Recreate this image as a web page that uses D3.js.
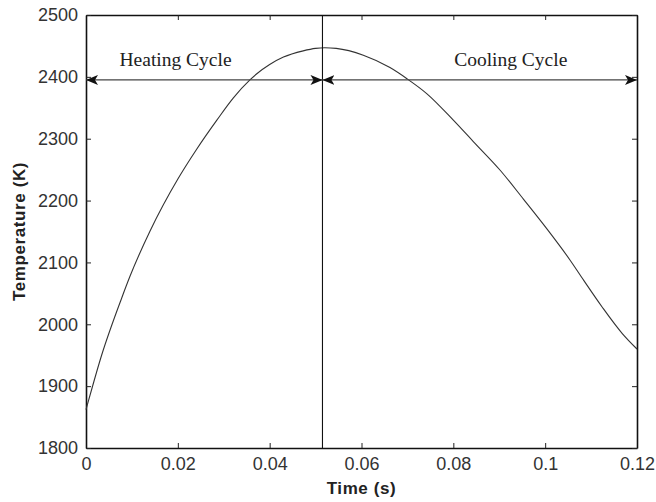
<!DOCTYPE html>
<html lang="en">
<head>
  <meta charset="UTF-8">
  <title>Temperature cycle</title>
  <script src="https://cdn.jsdelivr.net/npm/d3@7"></script>
</head>
<body style="margin:0; background:#fff;">
<script>
  // curve
  const timeS = [0, 0.0003, 0.0034, 0.0078, 0.0096, 0.0139, 0.0201, 0.0241, 0.0285, 0.0321, 0.0357, 0.0372,
    0.040, 0.043, 0.0473, 0.0500, 0.052, 0.0545, 0.0604, 0.0662, 0.0699, 0.0742, 0.080, 0.0844,
    0.0902, 0.0953, 0.1003, 0.1054, 0.1084, 0.1124, 0.1168, 0.12]
  const tempK = [1862, 1870, 1950, 2043, 2078, 2150, 2236, 2283, 2330, 2366, 2395, 2405,
    2420, 2432, 2442, 2446, 2447, 2446, 2435, 2415, 2397, 2373, 2330, 2295,
    2249, 2202, 2155, 2104, 2071, 2028, 1985, 1960]
  const xTicks = [0, 0.02, 0.04, 0.06, 0.08, 0.1, 0.12]
  const yTicks = [1800, 1900, 2000, 2100, 2200, 2300, 2400, 2500]
  const peakTime = 0.0515
  const arrowTemp = 2395
  const cycles = [
    {name: "Heating Cycle", from: 0, to: peakTime, labelAt: 0.0195},
    {name: "Cooling Cycle", from: peakTime, to: 0.12, labelAt: 0.0925}
  ]

  const width = 656, height = 502
  const margin = {left: 86, right: 19, top: 15, bottom: 54}

  const svg = d3.select("body").append("svg")
    .attr("width", width).attr("height", height)
    .style("font-family", "'Liberation Sans', Arial, sans-serif")

  const x = d3.scaleLinear().domain([0, 0.12]).range([margin.left, width - margin.right])
  const y = d3.scaleLinear().domain([1800, 2500]).range([height - margin.bottom, margin.top])

  const defs = svg.append("defs")
  defs.append("marker")
    .attr("id", "head")
    .attr("viewBox", "0 0 12 10")
    .attr("refX", 12).attr("refY", 5)
    .attr("markerWidth", 12).attr("markerHeight", 10)
    .attr("markerUnits", "userSpaceOnUse")
    .attr("orient", "auto-start-reverse")
    .append("path")
    .attr("d", "M0,0 L12,5 L0,10 L3,5 Z")
    .attr("fill", "#111")

  const fmtX = d => d === 0 ? "0" : String(+d.toFixed(2))

  // axes, ticks pointing inward, mirrored on top and right
  const axBottom = svg.append("g")
    .attr("transform", `translate(0,${y(1800)})`)
    .call(d3.axisBottom(x).tickValues(xTicks).tickFormat(fmtX).tickSizeInner(-5).tickSizeOuter(0).tickPadding(9))
  const axTop = svg.append("g")
    .attr("transform", `translate(0,${y(2500)})`)
    .call(d3.axisTop(x).tickValues(xTicks).tickFormat("").tickSizeInner(-5).tickSizeOuter(0))
  const axLeft = svg.append("g")
    .attr("transform", `translate(${x(0)},0)`)
    .call(d3.axisLeft(y).tickValues(yTicks).tickFormat(d3.format("d")).tickSizeInner(-5).tickSizeOuter(0).tickPadding(8))
  const axRight = svg.append("g")
    .attr("transform", `translate(${x(0.12)},0)`)
    .call(d3.axisRight(y).tickValues(yTicks).tickFormat("").tickSizeInner(-5).tickSizeOuter(0))

  ;[axBottom, axTop, axLeft, axRight].forEach(g => {
    g.select(".domain").attr("stroke", "#111").attr("stroke-width", 1.6)
    g.selectAll(".tick line").attr("stroke", "#222")
    g.selectAll(".tick text")
      .attr("fill", "#333")
      .style("font-size", "18px")
      .style("font-family", "'Liberation Sans', Arial, sans-serif")
  })

  // curve
  svg.append("path")
    .datum(timeS.map((t, i) => [t, tempK[i]]))
    .attr("fill", "none")
    .attr("stroke", "#333")
    .attr("stroke-width", 1.1)
    .attr("d", d3.line().x(d => x(d[0])).y(d => y(d[1])).curve(d3.curveMonotoneX))

  // vertical divider at the peak
  svg.append("line")
    .attr("x1", x(peakTime)).attr("x2", x(peakTime))
    .attr("y1", y(1800)).attr("y2", y(2500))
    .attr("stroke", "#111").attr("stroke-width", 1.1)

  // cycle arrows and labels
  svg.selectAll(".cycle")
    .data(cycles)
    .enter()
    .append("line")
    .attr("class", "cycle")
    .attr("x1", d => x(d.from)).attr("x2", d => x(d.to))
    .attr("y1", y(arrowTemp)).attr("y2", y(arrowTemp))
    .attr("stroke", "#444").attr("stroke-width", 1.3)
    .attr("marker-start", "url(#head)")
    .attr("marker-end", "url(#head)")

  svg.selectAll(".cycle-label")
    .data(cycles)
    .enter()
    .append("text")
    .attr("class", "cycle-label")
    .attr("x", d => x(d.labelAt))
    .attr("y", 66)
    .attr("text-anchor", "middle")
    .attr("fill", "#222")
    .style("font-family", "'Liberation Serif', 'Times New Roman', serif")
    .style("font-size", "19.5px")
    .text(d => d.name)

  svg.append("text")
    .attr("x", (x(0) + x(0.12)) / 2)
    .attr("y", 494)
    .attr("text-anchor", "middle")
    .attr("fill", "#222")
    .style("font-weight", "bold")
    .style("font-size", "17px")
    .style("letter-spacing", "0.6px")
    .text("Time (s)")

  svg.append("text")
    .attr("transform", `translate(25,${(y(1800) + y(2500)) / 2}) rotate(-90)`)
    .attr("text-anchor", "middle")
    .attr("fill", "#222")
    .style("font-weight", "bold")
    .style("font-size", "17px")
    .style("letter-spacing", "0.6px")
    .text("Temperature (K)")
</script>
</body>
</html>
